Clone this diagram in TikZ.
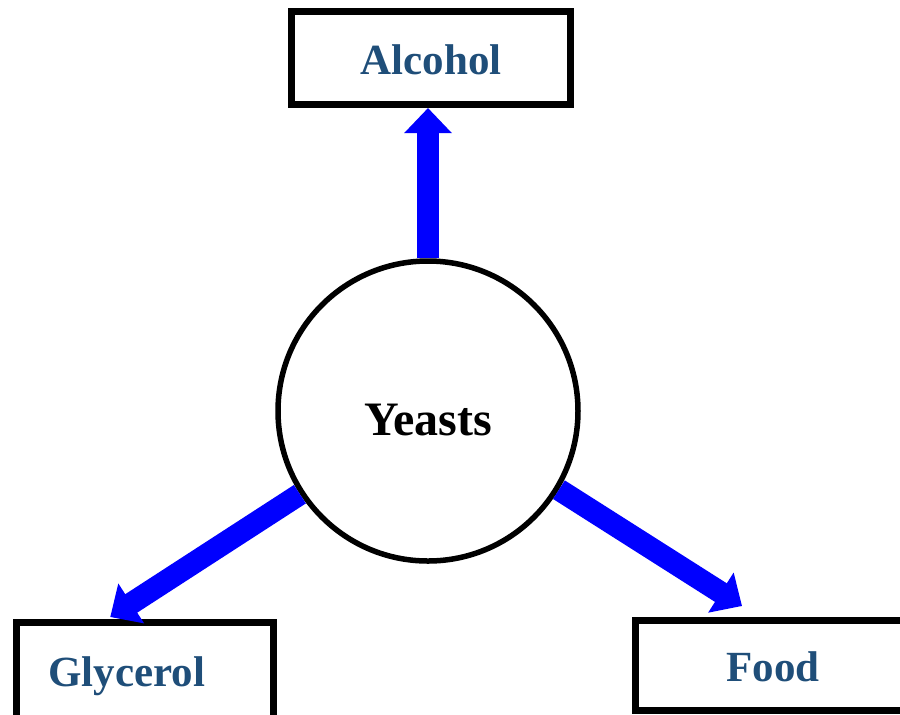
\documentclass[tikz,border=0pt]{standalone}
\usepackage{fontspec}
\setmainfont{Liberation Serif}
\usetikzlibrary{arrows.meta}
\definecolor{azulEtiqueta}{RGB}{31,78,121}
\definecolor{azulFlecha}{RGB}{0,0,255}

\begin{document}
\begin{tikzpicture}[x=0.5pt,y=-0.5pt,
    caja/.style={draw,rectangle,line width=3.5pt,inner sep=0pt,
      text=azulEtiqueta,text height=16pt,text depth=0pt,
      font=\fontsize{21.5}{24}\selectfont\bfseries},
    centro/.style={draw,circle,line width=2.75pt,minimum size=150pt,
      text height=24pt,text depth=0pt,
      font=\fontsize{24}{28}\selectfont\bfseries},
    flujo/.style={azulFlecha,line width=11pt,
      -{Triangle[width=23pt,length=12.5pt]}}]
    \useasboundingbox (0,0) rectangle (900,714);
    \clip (0,0) rectangle (900,714);

    % levadura en el centro
    \node[centro] (levaduras) at (428,411) {Yeasts};

    % productos
    \node[caja,minimum width=139.5pt,minimum height=46.5pt] (alcohol) at (431,58) {Alcohol};
    \node[caja,minimum height=48pt,text width=96.75pt,inner xsep=15.75pt,align=left]
      (glicerol) at (145,670.5) {Glycerol};
    \node[caja,minimum width=137.5pt,minimum height=45pt] (comida) at (773,665.5) {Food};

    % flechas
    \draw[flujo] (levaduras.north) -- (levaduras.north |- alcohol.south);
    \draw[flujo] (levaduras.213) -- ([xshift=48.5pt,yshift=1pt]glicerol.north west);
    \draw[flujo] (levaduras.329) -- ([xshift=55pt,yshift=5.5pt]comida.north west);
  \end{tikzpicture}
\end{document}
